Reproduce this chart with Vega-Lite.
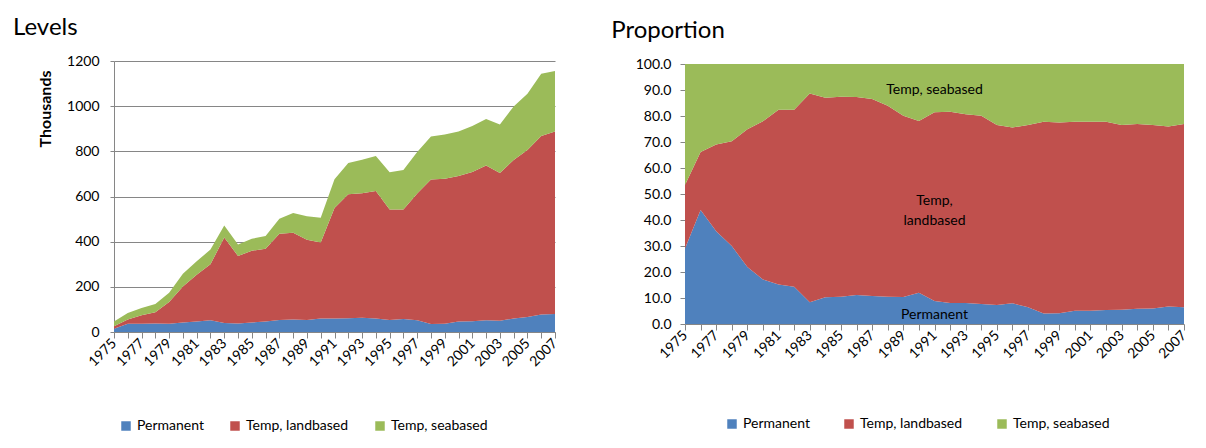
{
  "$schema": "https://vega.github.io/schema/vega-lite/v6.json",
  "padding": {"left": 12, "top": 16, "right": 0, "bottom": 0},
  "background": "white",
  "config": {
    "font": "Lato",
    "view": {"stroke": null},
    "axis": {
      "labelFont": "Lato", "labelFontSize": 14, "labelColor": "#000000",
      "domainColor": "#868686", "tickColor": "#868686", "gridColor": "#868686",
      "titleFont": "Lato", "titleColor": "#000000", "labelOverlap": false
    },
    "legend": {
      "labelFont": "Lato", "labelFontSize": 14, "labelColor": "#000000",
      "symbolType": "square", "symbolSize": 90, "symbolStrokeWidth": 0,
      "labelOffset": 4, "columnPadding": 24, "padding": 0
    },
    "title": {"font": "Lato", "fontSize": 24, "fontWeight": "normal", "color": "#000000"}
  },
  "datasets": {
    "levels": [
      {"year":1975,"series":"Permanent","value":14},{"year":1975,"series":"Temp, landbased","value":11},{"year":1975,"series":"Temp, seabased","value":22},
      {"year":1976,"series":"Permanent","value":36},{"year":1976,"series":"Temp, landbased","value":19},{"year":1976,"series":"Temp, seabased","value":29},
      {"year":1977,"series":"Permanent","value":37},{"year":1977,"series":"Temp, landbased","value":37},{"year":1977,"series":"Temp, seabased","value":32},
      {"year":1978,"series":"Permanent","value":38},{"year":1978,"series":"Temp, landbased","value":49},{"year":1978,"series":"Temp, seabased","value":37},
      {"year":1979,"series":"Permanent","value":37},{"year":1979,"series":"Temp, landbased","value":96},{"year":1979,"series":"Temp, seabased","value":41},
      {"year":1980,"series":"Permanent","value":42},{"year":1980,"series":"Temp, landbased","value":160},{"year":1980,"series":"Temp, seabased","value":56},
      {"year":1981,"series":"Permanent","value":46},{"year":1981,"series":"Temp, landbased","value":208},{"year":1981,"series":"Temp, seabased","value":59},
      {"year":1982,"series":"Permanent","value":52},{"year":1982,"series":"Temp, landbased","value":248},{"year":1982,"series":"Temp, seabased","value":65},
      {"year":1983,"series":"Permanent","value":40},{"year":1983,"series":"Temp, landbased","value":378},{"year":1983,"series":"Temp, seabased","value":54},
      {"year":1984,"series":"Permanent","value":38},{"year":1984,"series":"Temp, landbased","value":299},{"year":1984,"series":"Temp, seabased","value":51},
      {"year":1985,"series":"Permanent","value":42},{"year":1985,"series":"Temp, landbased","value":318},{"year":1985,"series":"Temp, seabased","value":53},
      {"year":1986,"series":"Permanent","value":47},{"year":1986,"series":"Temp, landbased","value":322},{"year":1986,"series":"Temp, seabased","value":56},
      {"year":1987,"series":"Permanent","value":53},{"year":1987,"series":"Temp, landbased","value":382},{"year":1987,"series":"Temp, seabased","value":67},
      {"year":1988,"series":"Permanent","value":55},{"year":1988,"series":"Temp, landbased","value":385},{"year":1988,"series":"Temp, seabased","value":87},
      {"year":1989,"series":"Permanent","value":53},{"year":1989,"series":"Temp, landbased","value":355},{"year":1989,"series":"Temp, seabased","value":104},
      {"year":1990,"series":"Permanent","value":60},{"year":1990,"series":"Temp, landbased","value":336},{"year":1990,"series":"Temp, seabased","value":110},
      {"year":1991,"series":"Permanent","value":60},{"year":1991,"series":"Temp, landbased","value":489},{"year":1991,"series":"Temp, seabased","value":127},
      {"year":1992,"series":"Permanent","value":61},{"year":1992,"series":"Temp, landbased","value":549},{"year":1992,"series":"Temp, seabased","value":138},
      {"year":1993,"series":"Permanent","value":63},{"year":1993,"series":"Temp, landbased","value":551},{"year":1993,"series":"Temp, seabased","value":149},
      {"year":1994,"series":"Permanent","value":60},{"year":1994,"series":"Temp, landbased","value":564},{"year":1994,"series":"Temp, seabased","value":155},
      {"year":1995,"series":"Permanent","value":53},{"year":1995,"series":"Temp, landbased","value":489},{"year":1995,"series":"Temp, seabased","value":165},
      {"year":1996,"series":"Permanent","value":58},{"year":1996,"series":"Temp, landbased","value":484},{"year":1996,"series":"Temp, seabased","value":175},
      {"year":1997,"series":"Permanent","value":52},{"year":1997,"series":"Temp, landbased","value":561},{"year":1997,"series":"Temp, seabased","value":184},
      {"year":1998,"series":"Permanent","value":35},{"year":1998,"series":"Temp, landbased","value":640},{"year":1998,"series":"Temp, seabased","value":191},
      {"year":1999,"series":"Permanent","value":36},{"year":1999,"series":"Temp, landbased","value":643},{"year":1999,"series":"Temp, seabased","value":195},
      {"year":2000,"series":"Permanent","value":46},{"year":2000,"series":"Temp, landbased","value":645},{"year":2000,"series":"Temp, seabased","value":197},
      {"year":2001,"series":"Permanent","value":48},{"year":2001,"series":"Temp, landbased","value":660},{"year":2001,"series":"Temp, seabased","value":204},
      {"year":2002,"series":"Permanent","value":52},{"year":2002,"series":"Temp, landbased","value":685},{"year":2002,"series":"Temp, seabased","value":206},
      {"year":2003,"series":"Permanent","value":50},{"year":2003,"series":"Temp, landbased","value":654},{"year":2003,"series":"Temp, seabased","value":215},
      {"year":2004,"series":"Permanent","value":60},{"year":2004,"series":"Temp, landbased","value":702},{"year":2004,"series":"Temp, seabased","value":237},
      {"year":2005,"series":"Permanent","value":66},{"year":2005,"series":"Temp, landbased","value":740},{"year":2005,"series":"Temp, seabased","value":249},
      {"year":2006,"series":"Permanent","value":78},{"year":2006,"series":"Temp, landbased","value":790},{"year":2006,"series":"Temp, seabased","value":276},
      {"year":2007,"series":"Permanent","value":80},{"year":2007,"series":"Temp, landbased","value":808},{"year":2007,"series":"Temp, seabased","value":268}
    ],
    "props": [
      {"year":1975,"series":"Permanent","pct":29.0},{"year":1975,"series":"Temp, landbased","pct":24.5},{"year":1975,"series":"Temp, seabased","pct":46.5},
      {"year":1976,"series":"Permanent","pct":43.8},{"year":1976,"series":"Temp, landbased","pct":22.4},{"year":1976,"series":"Temp, seabased","pct":33.8},
      {"year":1977,"series":"Permanent","pct":35.7},{"year":1977,"series":"Temp, landbased","pct":33.3},{"year":1977,"series":"Temp, seabased","pct":31.0},
      {"year":1978,"series":"Permanent","pct":30.0},{"year":1978,"series":"Temp, landbased","pct":40.3},{"year":1978,"series":"Temp, seabased","pct":29.7},
      {"year":1979,"series":"Permanent","pct":21.9},{"year":1979,"series":"Temp, landbased","pct":53.0},{"year":1979,"series":"Temp, seabased","pct":25.1},
      {"year":1980,"series":"Permanent","pct":17.1},{"year":1980,"series":"Temp, landbased","pct":60.9},{"year":1980,"series":"Temp, seabased","pct":22.0},
      {"year":1981,"series":"Permanent","pct":15.2},{"year":1981,"series":"Temp, landbased","pct":67.2},{"year":1981,"series":"Temp, seabased","pct":17.6},
      {"year":1982,"series":"Permanent","pct":14.3},{"year":1982,"series":"Temp, landbased","pct":68.1},{"year":1982,"series":"Temp, seabased","pct":17.6},
      {"year":1983,"series":"Permanent","pct":8.4},{"year":1983,"series":"Temp, landbased","pct":80.3},{"year":1983,"series":"Temp, seabased","pct":11.3},
      {"year":1984,"series":"Permanent","pct":10.3},{"year":1984,"series":"Temp, landbased","pct":76.7},{"year":1984,"series":"Temp, seabased","pct":13.0},
      {"year":1985,"series":"Permanent","pct":10.5},{"year":1985,"series":"Temp, landbased","pct":76.9},{"year":1985,"series":"Temp, seabased","pct":12.6},
      {"year":1986,"series":"Permanent","pct":11.2},{"year":1986,"series":"Temp, landbased","pct":76.1},{"year":1986,"series":"Temp, seabased","pct":12.7},
      {"year":1987,"series":"Permanent","pct":10.8},{"year":1987,"series":"Temp, landbased","pct":75.7},{"year":1987,"series":"Temp, seabased","pct":13.5},
      {"year":1988,"series":"Permanent","pct":10.5},{"year":1988,"series":"Temp, landbased","pct":73.4},{"year":1988,"series":"Temp, seabased","pct":16.1},
      {"year":1989,"series":"Permanent","pct":10.4},{"year":1989,"series":"Temp, landbased","pct":69.7},{"year":1989,"series":"Temp, seabased","pct":19.9},
      {"year":1990,"series":"Permanent","pct":12.0},{"year":1990,"series":"Temp, landbased","pct":66.1},{"year":1990,"series":"Temp, seabased","pct":21.9},
      {"year":1991,"series":"Permanent","pct":8.8},{"year":1991,"series":"Temp, landbased","pct":72.6},{"year":1991,"series":"Temp, seabased","pct":18.6},
      {"year":1992,"series":"Permanent","pct":8.1},{"year":1992,"series":"Temp, landbased","pct":73.5},{"year":1992,"series":"Temp, seabased","pct":18.4},
      {"year":1993,"series":"Permanent","pct":8.1},{"year":1993,"series":"Temp, landbased","pct":72.6},{"year":1993,"series":"Temp, seabased","pct":19.3},
      {"year":1994,"series":"Permanent","pct":7.7},{"year":1994,"series":"Temp, landbased","pct":72.4},{"year":1994,"series":"Temp, seabased","pct":19.9},
      {"year":1995,"series":"Permanent","pct":7.3},{"year":1995,"series":"Temp, landbased","pct":69.2},{"year":1995,"series":"Temp, seabased","pct":23.5},
      {"year":1996,"series":"Permanent","pct":8.0},{"year":1996,"series":"Temp, landbased","pct":67.6},{"year":1996,"series":"Temp, seabased","pct":24.4},
      {"year":1997,"series":"Permanent","pct":6.4},{"year":1997,"series":"Temp, landbased","pct":70.1},{"year":1997,"series":"Temp, seabased","pct":23.5},
      {"year":1998,"series":"Permanent","pct":4.0},{"year":1998,"series":"Temp, landbased","pct":73.8},{"year":1998,"series":"Temp, seabased","pct":22.2},
      {"year":1999,"series":"Permanent","pct":4.1},{"year":1999,"series":"Temp, landbased","pct":73.4},{"year":1999,"series":"Temp, seabased","pct":22.5},
      {"year":2000,"series":"Permanent","pct":5.1},{"year":2000,"series":"Temp, landbased","pct":72.7},{"year":2000,"series":"Temp, seabased","pct":22.2},
      {"year":2001,"series":"Permanent","pct":5.1},{"year":2001,"series":"Temp, landbased","pct":72.7},{"year":2001,"series":"Temp, seabased","pct":22.2},
      {"year":2002,"series":"Permanent","pct":5.4},{"year":2002,"series":"Temp, landbased","pct":72.4},{"year":2002,"series":"Temp, seabased","pct":22.2},
      {"year":2003,"series":"Permanent","pct":5.5},{"year":2003,"series":"Temp, landbased","pct":71.0},{"year":2003,"series":"Temp, seabased","pct":23.5},
      {"year":2004,"series":"Permanent","pct":5.9},{"year":2004,"series":"Temp, landbased","pct":71.0},{"year":2004,"series":"Temp, seabased","pct":23.1},
      {"year":2005,"series":"Permanent","pct":6.0},{"year":2005,"series":"Temp, landbased","pct":70.5},{"year":2005,"series":"Temp, seabased","pct":23.5},
      {"year":2006,"series":"Permanent","pct":6.7},{"year":2006,"series":"Temp, landbased","pct":69.3},{"year":2006,"series":"Temp, seabased","pct":24.0},
      {"year":2007,"series":"Permanent","pct":6.4},{"year":2007,"series":"Temp, landbased","pct":70.5},{"year":2007,"series":"Temp, seabased","pct":23.1}
    ],
    "labels": [
      {"year":1991,"pct":90,"label":"Temp, seabased"},
      {"year":1991,"pct":47.3,"label":"Temp,"},
      {"year":1991,"pct":39.6,"label":"landbased"},
      {"year":1991,"pct":3.5,"label":"Permanent"}
    ]
  },
  "hconcat": [
    {
      "width": 441,
      "height": 271,
      "title": {"text": "Levels", "anchor": "start", "frame": "bounds", "offset": 14, "dx": -24},
      "data": {"name": "levels"},
      "mark": {"type": "area"},
      "encoding": {
        "x": {
          "field": "year", "type": "quantitative",
          "scale": {"domain": [1975, 2007], "nice": false, "zero": false},
          "axis": {
            "title": null, "grid": false, "format": "d",
            "values": [1975,1976,1977,1978,1979,1980,1981,1982,1983,1984,1985,1986,1987,1988,1989,1990,1991,1992,1993,1994,1995,1996,1997,1998,1999,2000,2001,2002,2003,2004,2005,2006,2007],
            "labelExpr": "datum.value % 2 == 1 ? datum.label : ''",
            "labelAngle": -45, "labelAlign": "right", "labelBaseline": "middle",
            "labelOverlap": false, "labelFlush": false, "tickSize": 6, "labelPadding": 3
          }
        },
        "y": {
          "field": "value", "type": "quantitative", "stack": "zero",
          "scale": {"domain": [0, 1200], "nice": false},
          "axis": {
            "title": "Thousands", "titleFontWeight": "bold", "titleFontSize": 16,
            "titleX": -64, "titleY": 9, "titleAlign": "right", "titleBaseline": "alphabetic",
            "values": [0, 200, 400, 600, 800, 1000, 1200], "format": "d",
            "grid": true, "tickSize": 4, "labelPadding": 11
          }
        },
        "color": {
          "field": "series", "type": "nominal",
          "scale": {"domain": ["Permanent", "Temp, landbased", "Temp, seabased"], "range": ["#4F81BD", "#C0504D", "#9BBB59"]},
          "legend": {"title": null, "orient": "none", "direction": "horizontal", "legendX": 5, "legendY": 358}
        },
        "order": {"field": "series", "sort": "ascending"}
      }
    },
    {
      "width": 499,
      "height": 263,
      "title": {"text": "Proportion", "anchor": "start", "frame": "bounds", "offset": 14, "dx": -24},
      "layer": [
        {
          "data": {"name": "props"},
          "mark": {"type": "area"},
          "encoding": {
            "x": {
              "field": "year", "type": "quantitative",
              "scale": {"domain": [1975, 2007], "nice": false, "zero": false},
              "axis": {
                "title": null, "grid": false, "format": "d",
                "values": [1975,1976,1977,1978,1979,1980,1981,1982,1983,1984,1985,1986,1987,1988,1989,1990,1991,1992,1993,1994,1995,1996,1997,1998,1999,2000,2001,2002,2003,2004,2005,2006,2007],
                "labelExpr": "datum.value % 2 == 1 ? datum.label : ''",
                "labelAngle": -45, "labelAlign": "right", "labelBaseline": "middle",
                "labelOverlap": false, "labelFlush": false, "tickSize": 6, "labelPadding": 3
              }
            },
            "y": {
              "field": "pct", "type": "quantitative", "stack": "zero",
              "scale": {"domain": [0, 100], "nice": false, "range": [263, 3]},
              "axis": {
                "title": null, "format": ".1f",
                "values": [0, 10, 20, 30, 40, 50, 60, 70, 80, 90, 100],
                "labelOverlap": false, "grid": false, "tickSize": 5, "labelPadding": 9
              }
            },
            "color": {
              "field": "series", "type": "nominal",
              "scale": {"domain": ["Permanent", "Temp, landbased", "Temp, seabased"], "range": ["#4F81BD", "#C0504D", "#9BBB59"]},
              "legend": {"title": null, "orient": "none", "direction": "horizontal", "legendX": 40, "legendY": 356, "columnPadding": 32}
            },
            "order": {"field": "series", "sort": "ascending"}
          }
        },
        {
          "data": {"name": "labels"},
          "mark": {"type": "text", "fontSize": 14, "color": "#000000", "font": "Lato"},
          "encoding": {
            "x": {
              "field": "year", "type": "quantitative",
              "axis": {
                "title": null, "grid": false, "format": "d",
                "values": [1975,1976,1977,1978,1979,1980,1981,1982,1983,1984,1985,1986,1987,1988,1989,1990,1991,1992,1993,1994,1995,1996,1997,1998,1999,2000,2001,2002,2003,2004,2005,2006,2007],
                "labelExpr": "datum.value % 2 == 1 ? datum.label : ''",
                "labelAngle": -45, "labelAlign": "right", "labelBaseline": "middle",
                "labelOverlap": false, "labelFlush": false, "tickSize": 6, "labelPadding": 3
              }
            },
            "y": {
              "field": "pct", "type": "quantitative",
              "axis": {
                "title": null, "format": ".1f",
                "values": [0, 10, 20, 30, 40, 50, 60, 70, 80, 90, 100],
                "labelOverlap": false, "grid": false, "tickSize": 5, "labelPadding": 9
              }
            },
            "text": {"field": "label"}
          }
        }
      ]
    }
  ],
  "spacing": 51,
  "resolve": {"legend": {"color": "independent"}}
}
